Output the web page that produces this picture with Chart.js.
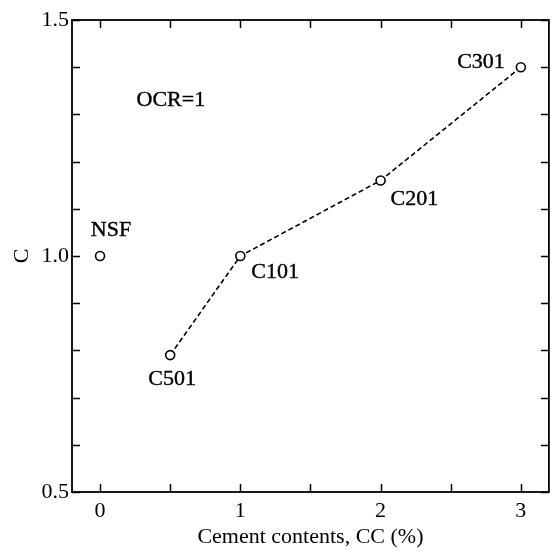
<!DOCTYPE html>
<html>
<head>
<meta charset="utf-8">
<script src="https://cdn.jsdelivr.net/npm/chart.js@4/dist/chart.umd.min.js"></script>
<style>
    html, body { margin: 0; padding: 0; background: #fff; }
    #wrap { width: 555px; height: 554px; }
</style>
</head>
<body>
<div id="wrap"><canvas id="c" width="555" height="554"></canvas></div>
<script>
// cement content (%) and C for the cemented series
const cementContents = [0.5, 1, 2, 3]
const cValues = [0.79, 1.0, 1.16, 1.40]
const seriesNames = ["C501", "C101", "C201", "C301"]

// untreated sample
const nsfContent = [0]
const nsfValue = [1.0]
const nsfName = "NSF"

const xTickLabels = ["0", "1", "2", "3"]
const yTickLabels = ["0.5", "1.0", "1.5"]

const FONT = "'Liberation Serif', 'Times New Roman', serif"

// where each label sits relative to its point (px) and how it is aligned
const labelPlace = {
    "NSF": {dx: 11, dy: -26, align: "center"},
    "C501": {dx: 2, dy: 24, align: "center"},
    "C101": {dx: 11, dy: 16, align: "left"},
    "C201": {dx: 10, dy: 19, align: "left"},
    "C301": {dx: -16, dy: -5, align: "right"}
}

const innerTicks = {
    id: 'innerTicks',
    afterDraw(chart) {
        var ctx = chart.ctx
        var a = chart.chartArea
        var xs = chart.scales.x
        var ys = chart.scales.y
        var len = 8
        ctx.save()
        ctx.strokeStyle = '#000'
        ctx.lineWidth = 1.8
        ctx.strokeRect(a.left, a.top, a.right - a.left, a.bottom - a.top)
        ctx.lineWidth = 1.5
        ctx.beginPath()
        for (let t of xs.ticks) {
            var px = Math.round(xs.getPixelForValue(t.value)) + 0.5
            ctx.moveTo(px, a.bottom); ctx.lineTo(px, a.bottom - len)
            ctx.moveTo(px, a.top); ctx.lineTo(px, a.top + len)
        }
        for (let t of ys.ticks) {
            var py = Math.round(ys.getPixelForValue(t.value)) + 0.5
            ctx.moveTo(a.left, py); ctx.lineTo(a.left + len, py)
            ctx.moveTo(a.right, py); ctx.lineTo(a.right - len, py)
        }
        ctx.stroke()
        ctx.restore()
    }
}

const pointNames = {
    id: 'pointNames',
    afterDatasetsDraw(chart) {
        var ctx = chart.ctx
        var xs = chart.scales.x
        var ys = chart.scales.y
        ctx.save()
        ctx.fillStyle = '#000'
        ctx.strokeStyle = '#000'
        ctx.lineWidth = 0.4
        ctx.font = "22px " + FONT
        ctx.textBaseline = 'middle'
        var names = [nsfName].concat(seriesNames)
        var px = nsfContent.concat(cementContents)
        var py = nsfValue.concat(cValues)
        for (var i = 0; i < names.length; i++) {
            var p = labelPlace[names[i]]
            ctx.textAlign = p.align
            var tx = xs.getPixelForValue(px[i]) + p.dx
            var ty = ys.getPixelForValue(py[i]) + p.dy
            ctx.fillText(names[i], tx, ty)
            ctx.strokeText(names[i], tx, ty)
        }
        // condition note
        ctx.textAlign = 'left'
        var ox = xs.getPixelForValue(0.26), oy = ys.getPixelForValue(1.33)
        ctx.fillText("OCR=1", ox, oy)
        ctx.strokeText("OCR=1", ox, oy)
        ctx.restore()
    }
}

new Chart(document.getElementById('c'), {
    type: 'scatter',
    data: {
        datasets: [
            {
                data: nsfContent.map((x, i) => ({x: x, y: nsfValue[i]})),
                showLine: false,
                pointStyle: 'circle',
                pointRadius: 4.5,
                pointBorderWidth: 1.6,
                pointBorderColor: '#000',
                pointBackgroundColor: '#fff'
            },
            {
                data: cementContents.map((x, i) => ({x: x, y: cValues[i]})),
                showLine: true,
                borderColor: '#000',
                borderWidth: 1.6,
                borderDash: [5, 3],
                pointStyle: 'circle',
                pointRadius: 4.5,
                pointBorderWidth: 1.6,
                pointBorderColor: '#000',
                pointBackgroundColor: '#fff'
            }
        ]
    },
    options: {
        responsive: false,
        animation: false,
        events: [],
        layout: {padding: {left: 0, top: 20, right: 5, bottom: 0}},
        plugins: {legend: {display: false}, tooltip: {enabled: false}},
        scales: {
            x: {
                type: 'linear',
                min: -0.2,
                max: 3.2,
                afterBuildTicks(scale) {
                    scale.ticks = [0, 0.5, 1, 1.5, 2, 2.5, 3].map(v => ({value: v}))
                },
                afterFit(scale) { scale.height = 62 },
                grid: {display: false, drawTicks: false},
                border: {display: false},
                ticks: {
                    color: '#000',
                    padding: 6,
                    font: {family: FONT, size: 22},
                    callback: (v) => Number.isInteger(v) ? xTickLabels[v] : ''
                },
                title: {
                    display: true,
                    text: 'Cement contents, CC (%)',
                    color: '#000',
                    font: {family: FONT, size: 22},
                    padding: {top: 0, bottom: 4}
                }
            },
            y: {
                type: 'linear',
                min: 0.5,
                max: 1.5,
                afterBuildTicks(scale) {
                    var t = []
                    for (var i = 0; i <= 10; i++) t.push({value: Math.round((0.5 + i * 0.1) * 10) / 10})
                    scale.ticks = t
                },
                afterFit(scale) { scale.width = 72 },
                grid: {display: false, drawTicks: false},
                border: {display: false},
                ticks: {
                    color: '#000',
                    padding: 3,
                    font: {family: FONT, size: 22},
                    callback: (v) => {
                        var k = [0.5, 1.0, 1.5].indexOf(v)
                        return k >= 0 ? yTickLabels[k] : ''
                    }
                },
                title: {
                    display: true,
                    text: 'C',
                    color: '#000',
                    font: {family: FONT, size: 22},
                    padding: {top: 9, bottom: 0}
                }
            }
        }
    },
    plugins: [innerTicks, pointNames]
})
</script>
</body>
</html>
